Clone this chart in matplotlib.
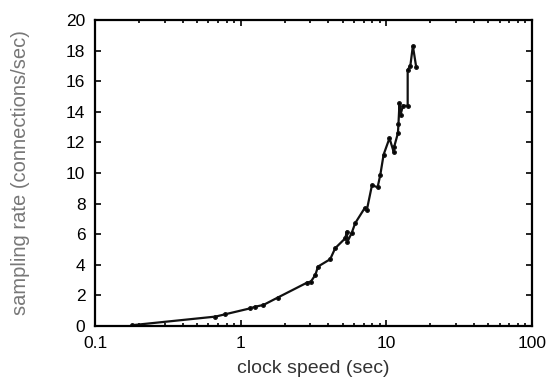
import numpy as np
import matplotlib; matplotlib.use('Agg')
import matplotlib.pyplot as plt
from matplotlib.ticker import LogLocator, FixedLocator, FixedFormatter

plt.rcParams['font.family'] = ['Liberation Sans', 'DejaVu Sans']

# clock speed (sec) vs sampling rate (connections/sec)
clock_speed = [0.18, 0.67, 0.78, 1.16, 1.26, 1.43, 1.79, 2.85, 3.03, 3.25, 3.39,
               4.11, 4.45, 5.22, 5.35, 5.4, 5.79, 6.1, 7.08, 7.34, 7.96, 8.7,
               9.08, 9.57, 10.5, 11.2, 11.3, 12.0, 12.1, 12.3, 12.5, 13.0,
               14.0, 14.0, 14.6, 15.2, 16.0]
sampling_rate = [0.05, 0.61, 0.76, 1.15, 1.26, 1.37, 1.85, 2.83, 2.9, 3.33, 3.88,
                 4.36, 5.08, 5.73, 6.17, 5.5, 6.1, 6.71, 7.69, 7.58, 9.2, 9.06,
                 9.87, 11.2, 12.27, 11.4, 11.7, 12.6, 13.2, 14.55, 13.8, 14.4,
                 14.38, 16.73, 17.0, 18.3, 16.95]

xticks = [0.1, 1, 10, 100]
xtick_labels = ['0.1', '1', '10', '100']
yticks = list(range(0, 21, 2))

fig = plt.figure(figsize=(5.6, 3.83), dpi=100)
ax = fig.add_axes([0.170, 0.149, 0.780, 0.799])

ax.plot(clock_speed, sampling_rate, '-', color='#111111', linewidth=1.6,
        marker='o', markersize=2.5, markerfacecolor='black')

ax.set_xscale('log')
ax.set_xlim(0.1, 100)
ax.set_ylim(0, 20)
ax.xaxis.set_major_locator(FixedLocator(xticks))
ax.xaxis.set_major_formatter(FixedFormatter(xtick_labels))
ax.xaxis.set_minor_locator(LogLocator(base=10, subs=np.arange(2, 10)))
ax.set_yticks(yticks)

ax.tick_params(which='both', direction='in', top=True, right=True,
               labelsize=12.5, colors='black', width=1.2)
ax.tick_params(which='major', length=4, pad=7)
ax.tick_params(which='minor', length=2.5)
for s in ax.spines.values():
    s.set_linewidth(1.6)

ax.set_xlabel('clock speed (sec)', fontsize=14, color='#333333', labelpad=7)
ax.set_ylabel('sampling rate (connections/sec)', fontsize=14.5, color='#777777', labelpad=26)

fig.savefig('out.png', dpi=100)
